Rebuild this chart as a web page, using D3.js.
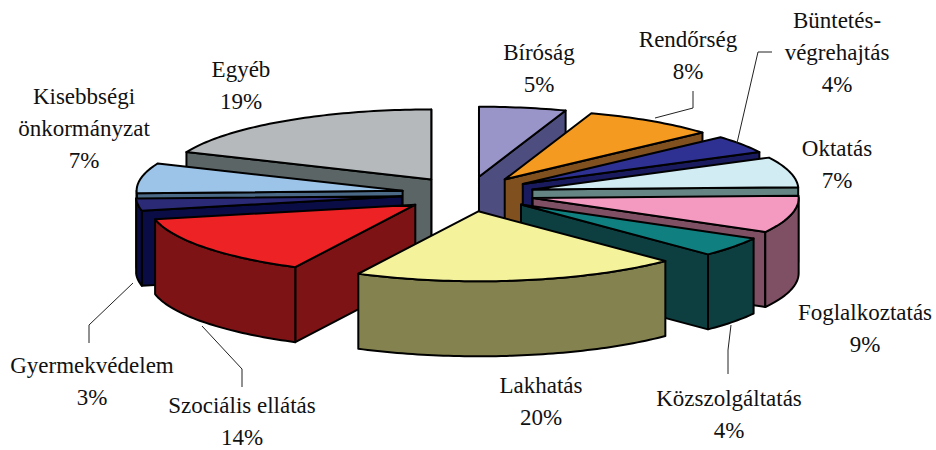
<!DOCTYPE html>
<html><head><meta charset="utf-8">
<script src="https://cdn.jsdelivr.net/npm/d3@7"></script>
<style>html,body{margin:0;padding:0;background:#fff}svg{display:block}</style>
</head><body><svg id="c" width="936" height="450"></svg>
<script>
const categories=["Bíróság","Rendőrség","Büntetés-végrehajtás","Oktatás","Foglalkoztatás","Közszolgáltatás","Lakhatás","Szociális ellátás","Gyermekvédelem","Kisebbségi önkormányzat","Egyéb"];
const shares=[5.28,8.06,4.11,7,8.61,4.53,19.86,14.22,2.78,6.94,18.61];
const percentLabels=["5%","8%","4%","7%","9%","4%","20%","14%","3%","7%","19%"];
const topColors=["#9a95c9","#f59a20","#2e3192","#d2ecf4","#f49ac1","#0f7f7f","#f5f29c","#ed2224","#2b2a77","#9cc3e8","#b5b9bb"];
const sideColors=["#4d4d80","#80511f","#1a1a5e","#648583","#7f4f63","#0d3f40","#84834f","#7d1315","#0a0c45","#4b6a88","#5b6566"];
const drawOrder=[10,0,1,2,3,9,4,8,5,7,6];
const labelLines=[["Bíróság"],["Rendőrség"],["Büntetés-","végrehajtás"],["Oktatás"],["Foglalkoztatás"],["Közszolgáltatás"],["Lakhatás"],["Szociális ellátás"],["Gyermekvédelem"],["Kisebbségi","önkormányzat"],["Egyéb"]];
const labelCentres=[[539,60],[688,47],[837,28],[837,156],[865,320],[729,406],[541,393],[242,413],[92,373],[84,104],[241,77]];
const lineGap=32;
const leaders=[
 [[693,91],[693,108],[655,118]],
 [[772,52],[758,52],[737,143]],
 [[731,325],[728,350],[728,374]],
 [[133,283],[89,325],[89,343]],
 [[202,326],[242,369],[242,387]]
];
const cx=468,cy=194,rx=266,ry=70,depth=75,explode=0.25;
const unitX=d3.scaleLinear().domain([-1,1]).range([-rx,rx]);
const unitY=d3.scaleLinear().domain([-1,1]).range([-ry,ry]);
const arcs=d3.pie().sort(null).value(d=>d)(shares);
const svg=d3.select("#c");
const line=d3.line();
const pt=(a,o,dz=0)=>[o[0]+unitX(Math.sin(a)),o[1]-unitY(Math.cos(a))+dz];
function arcPts(a0,a1,o,dz){const n=Math.max(2,Math.ceil(Math.abs(a1-a0)/0.02));return d3.range(n+1).map(i=>pt(a0+(a1-a0)*i/n,o,dz));}
const faceStyle=(s,fill)=>s.attr("fill",fill).attr("stroke","#000").attr("stroke-width",2).attr("stroke-linejoin","round");
drawOrder.forEach(i=>{
  const d=arcs[i],a0=d.startAngle,a1=d.endAngle,mid=(a0+a1)/2;
  const o=[cx+explode*unitX(Math.sin(mid)),cy-explode*unitY(Math.cos(mid))];
  const g=svg.append("g").attr("class","slice");
  const down=p=>[p[0],p[1]+depth];
  const cut=a=>{const e=pt(a,o);faceStyle(g.append("path").attr("d",line([o,e,down(e),down(o)])+"Z"),sideColors[i]);};
  if(Math.sin(a1)>0) cut(a1);
  if(Math.sin(a0)<0) cut(a0);
  const w0=Math.max(a0,Math.PI/2),w1=Math.min(a1,Math.PI*1.5);
  if(w1>w0){
    const upper=arcPts(w0,w1,o,0),lower=arcPts(w1,w0,o,depth);
    faceStyle(g.append("path").attr("d",line(upper.concat(lower))+"Z"),sideColors[i]);
  }
  faceStyle(g.append("path").attr("d",line([o].concat(arcPts(a0,a1,o,0)))+"Z"),topColors[i]);
});
svg.append("g").selectAll("path").data(leaders).join("path")
  .attr("d",d=>line(d)).attr("fill","none").attr("stroke","#222").attr("stroke-width",1);
const t=svg.append("g").attr("font-family","'Liberation Serif',serif").attr("font-size",23).attr("fill","#111").attr("text-anchor","middle");
categories.forEach((c,i)=>{
  const lines=labelLines[i].concat(percentLabels[i]);
  lines.forEach((s,k)=>t.append("text").attr("x",labelCentres[i][0]).attr("y",labelCentres[i][1]+k*lineGap).text(s));
});
</script></body></html>
